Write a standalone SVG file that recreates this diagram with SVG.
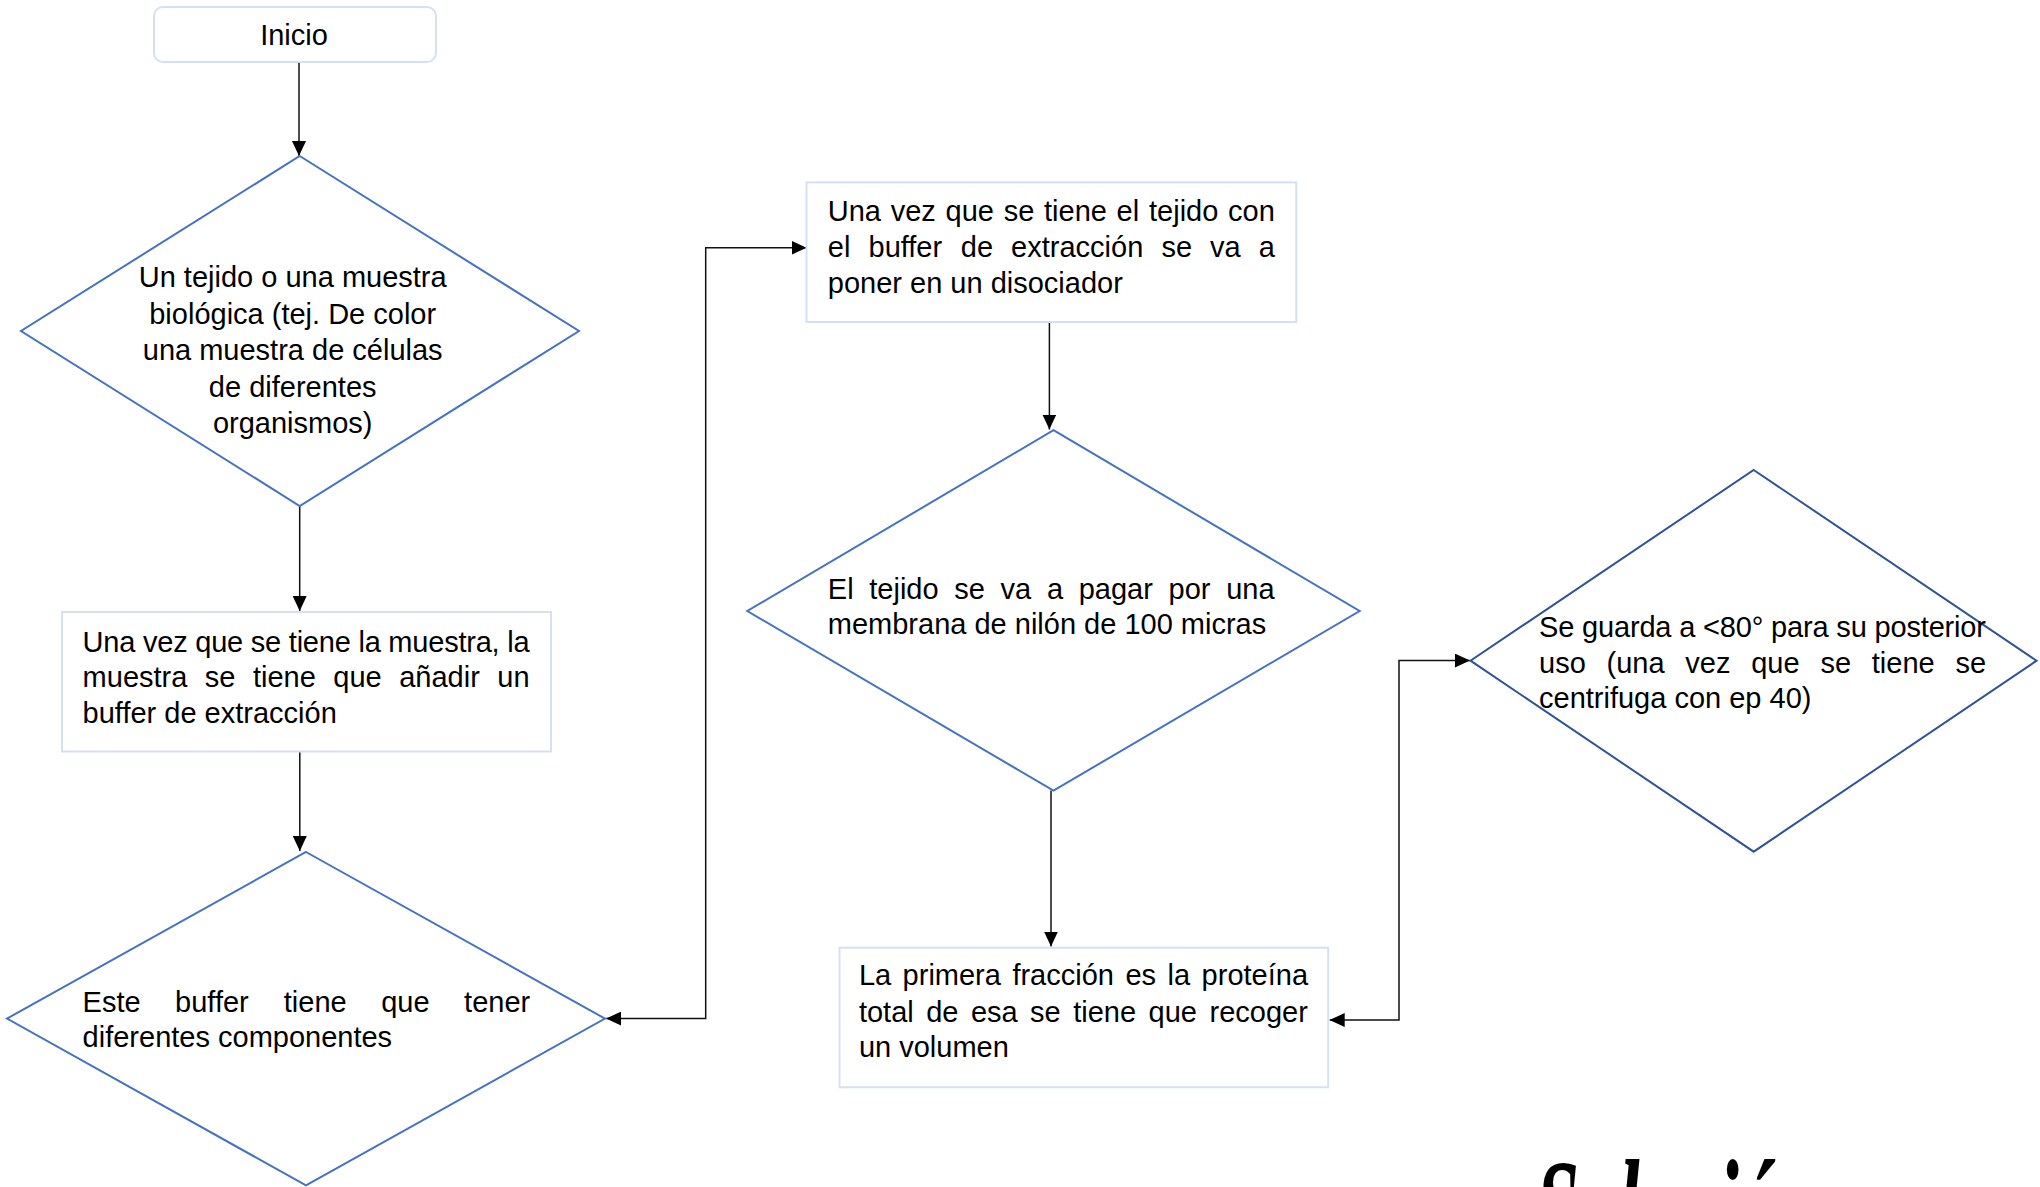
<svg xmlns="http://www.w3.org/2000/svg" width="2040" height="1187" viewBox="0 0 2040 1187">
<style>
.t{font-family:"Liberation Sans",Arial,sans-serif;font-size:29px;fill:#000}
.c{text-anchor:middle}
.box{fill:#fff;stroke:#d6e0f3;stroke-width:2}
.dia{fill:#fff;stroke:#4472c4;stroke-width:2}
.dia2{fill:#fff;stroke:#2f5597;stroke-width:2}
.con{fill:none;stroke:#111;stroke-width:1.5}
</style>
<defs>
<marker id="ah" markerUnits="userSpaceOnUse" markerWidth="15" markerHeight="14" refX="15" refY="7" orient="auto-start-reverse">
<path d="M0,0 L15,7 L0,14 z" fill="#000"/>
</marker>
</defs>
<rect width="2040" height="1187" fill="#fff"/>

<g id="connectors">
<path class="con" d="M299,62 L299,156" marker-end="url(#ah)"/>
<path class="con" d="M299.7,506 L299.7,611" marker-end="url(#ah)"/>
<path class="con" d="M299.8,752 L299.8,851" marker-end="url(#ah)"/>
<path class="con" d="M606,1018.6 L705.7,1018.6 L705.7,247.8 L806.5,247.8" marker-start="url(#ah)" marker-end="url(#ah)"/>
<path class="con" d="M1049.4,322 L1049.4,429.5" marker-end="url(#ah)"/>
<path class="con" d="M1051,790.6 L1051,946.5" marker-end="url(#ah)"/>
<path class="con" d="M1329.7,1020 L1399,1020 L1399,660.6 L1470,660.6" marker-start="url(#ah)" marker-end="url(#ah)"/>
</g>

<g id="inicio">
<rect class="box" x="154" y="7" width="282" height="55" rx="9"/>
<text class="t c" x="294" y="45">Inicio</text>
</g>

<g id="d1">
<polygon class="dia" points="299.7,156 579,331 299.7,506 21,331"/>
<text class="t c" x="292.7" y="287">Un tejido o una muestra</text>
<text class="t c" x="292.7" y="323.5">biológica (tej. De color</text>
<text class="t c" x="292.7" y="360">una muestra de células</text>
<text class="t c" x="292.7" y="396.5">de diferentes</text>
<text class="t c" x="292.7" y="432.5">organismos)</text>
</g>

<g id="box1">
<rect class="box" x="62" y="612" width="489" height="139.5"/>
<text class="t" x="82.6" y="651.6" textLength="447" lengthAdjust="spacing">Una vez que se tiene la muestra, la</text>
<text class="t" y="687"><tspan x="82.6">muestra</tspan><tspan x="204.8">se</tspan><tspan x="252.9">tiene</tspan><tspan x="333.3">que</tspan><tspan x="399.2">añadir</tspan><tspan x="497.3">un</tspan></text>
<text class="t" x="82.6" y="722.5">buffer de extracción</text>
</g>

<g id="d2">
<polygon class="dia" points="306,852 605,1018.6 306,1185.4 7,1018.6"/>
<text class="t" y="1011.7"><tspan x="82.6">Este</tspan><tspan x="175.1">buffer</tspan><tspan x="283.8">tiene</tspan><tspan x="381.2">que</tspan><tspan x="464.1">tener</tspan></text>
<text class="t" x="82.6" y="1046.8">diferentes componentes</text>
</g>

<g id="box2">
<rect class="box" x="806.5" y="182.4" width="489.8" height="139.6"/>
<text class="t" y="221.2"><tspan x="827.8">Una</tspan><tspan x="890.7">vez</tspan><tspan x="945.5">que</tspan><tspan x="1003.7">se</tspan><tspan x="1044">tiene</tspan><tspan x="1116.6">el</tspan><tspan x="1149">tejido</tspan><tspan x="1228">con</tspan></text>
<text class="t" y="257.1"><tspan x="827.8">el</tspan><tspan x="868.5">buffer</tspan><tspan x="960.8">de</tspan><tspan x="1011.1">extracción</tspan><tspan x="1161.4">se</tspan><tspan x="1210.1">va</tspan><tspan x="1258.8">a</tspan></text>
<text class="t" x="827.8" y="292.7">poner en un disociador</text>
</g>

<g id="d3">
<polygon class="dia" points="1053.5,430.2 1359.6,611 1053.5,790.6 747.3,611"/>
<text class="t" y="598.8"><tspan x="827.8">El</tspan><tspan x="869.3">tejido</tspan><tspan x="954.3">se</tspan><tspan x="1000.6">va</tspan><tspan x="1046.9">a</tspan><tspan x="1078.7">pagar</tspan><tspan x="1168.6">por</tspan><tspan x="1226.2">una</tspan></text>
<text class="t" x="827.8" y="634.3">membrana de nilón de 100 micras</text>
</g>

<g id="box3">
<rect class="box" x="839.5" y="947.7" width="488.7" height="139.6"/>
<text class="t" y="985"><tspan x="858.9">La</tspan><tspan x="902.6">primera</tspan><tspan x="1012.4">fracción</tspan><tspan x="1125.4">es</tspan><tspan x="1167.5">la</tspan><tspan x="1201.6">proteína</tspan></text>
<text class="t" y="1021.7"><tspan x="858.9">total</tspan><tspan x="926.2">de</tspan><tspan x="970.9">esa</tspan><tspan x="1030.1">se</tspan><tspan x="1073.2">tiene</tspan><tspan x="1148.6">que</tspan><tspan x="1209.5">recoger</tspan></text>
<text class="t" x="858.9" y="1057.3">un volumen</text>
</g>

<g id="d4">
<polygon class="dia2" points="1753.7,470 2036.6,660.7 1753.7,851.7 1470.5,660.7"/>
<text class="t" x="1539" y="636.7" textLength="447" lengthAdjust="spacing">Se guarda a &lt;80° para su posterior</text>
<text class="t" y="672.7"><tspan x="1539">uso</tspan><tspan x="1606.5">(una</tspan><tspan x="1685.3">vez</tspan><tspan x="1751.2">que</tspan><tspan x="1820.4">se</tspan><tspan x="1871.8">tiene</tspan><tspan x="1955.5">se</tspan></text>
<text class="t" x="1539" y="708.3">centrifuga con ep 40)</text>
</g>

<text x="1536" y="1256" font-family="Liberation Serif, serif" font-style="italic" font-weight="bold" font-size="140" textLength="285" lengthAdjust="spacingAndGlyphs" fill="#000">Solución</text>
</svg>
